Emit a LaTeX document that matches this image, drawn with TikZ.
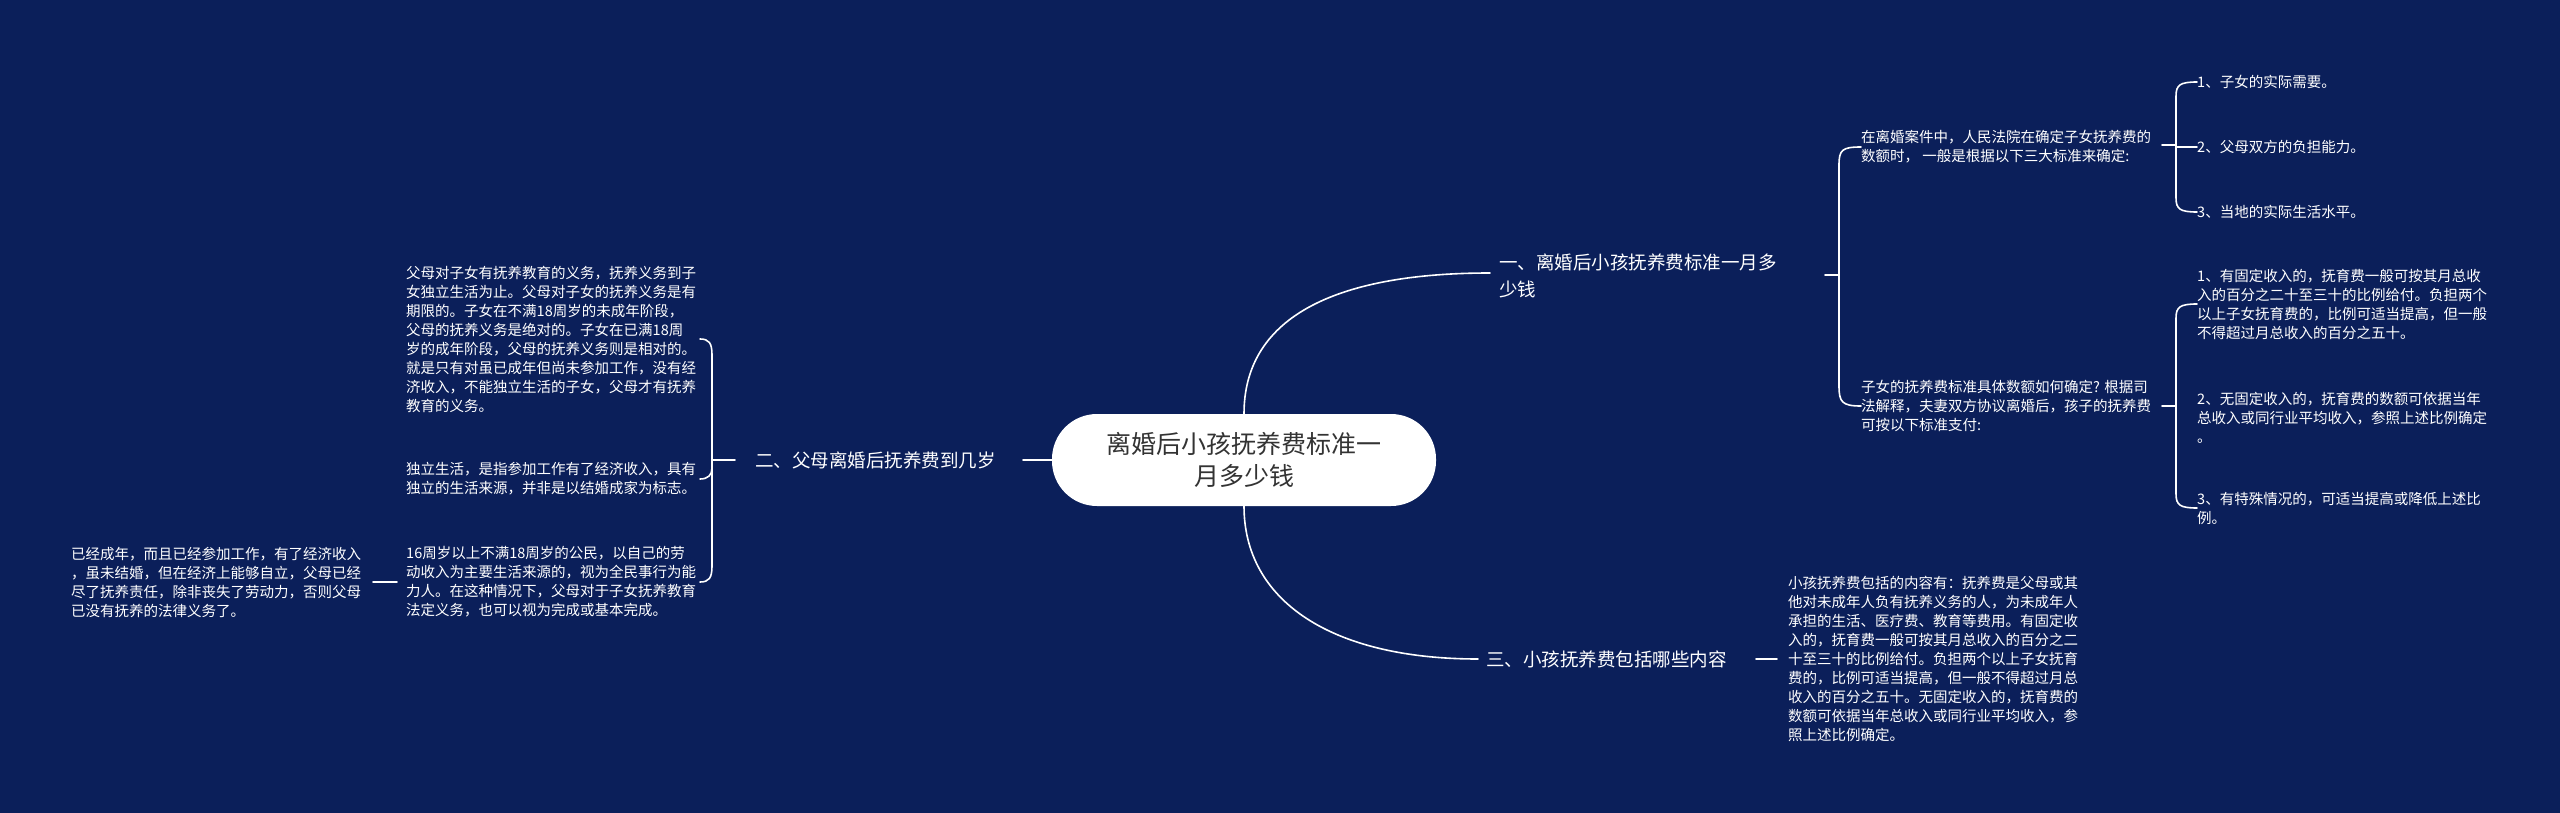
\documentclass[tikz,border=0pt]{standalone}
\usepackage{fontspec}
\setmainfont{Noto Sans CJK SC}
\definecolor{bg}{HTML}{0B1F5A}
\definecolor{roottext}{HTML}{333333}
\begin{document}
\begin{tikzpicture}[x=1pt,y=-1pt,
  line/.style={draw=white,line width=1.6pt,line cap=round},
  small/.style={text=white,align=left,anchor=west,inner sep=0pt,font=\fontsize{14.5}{19}\selectfont},
  branch/.style={text=white,align=left,anchor=west,inner sep=0pt,font=\fontsize{18.5}{27}\selectfont},
  rootbox/.style={fill=white,rounded corners=45pt,minimum width=384pt,minimum height=92pt,text=roottext,align=center,font=\fontsize{25}{32}\selectfont}]
\fill[bg] (0,0) rectangle (2560,813);
\useasboundingbox (0,0) rectangle (2560,813);
% root
\node[rootbox] (root) at (1244,460) {离婚后小孩抚养费标准一\\月多少钱};
% branch 1
\node[branch] (b1) at (1499,276) {一、离婚后小孩抚养费标准一月多\\少钱};
\coordinate (b1in) at (1490,273);
\draw[line] (root.north) .. controls (1244,320) and (1330,273) .. (b1in);
\coordinate (br1) at (1839,275);
\draw[line] (1825,275) -- (br1);
\node[small] (A) at (1861,147) {在离婚案件中，人民法院在确定子女抚养费的\\数额时， 一般是根据以下三大标准来确定:};
\node[small] (B) at (1861,406) {子女的抚养费标准具体数额如何确定? 根据司\\法解释，夫妻双方协议离婚后，孩子的抚养费\\可按以下标准支付:};
\draw[line] (A.west) .. controls (1842,147) and (1839,150) .. (1839,165) -- (1839,386) .. controls (1839,402) and (1842,406) .. (B.west);
% A children
\node[small] (A1) at (2197,82) {1、子女的实际需要。};
\node[small] (A2) at (2197,147) {2、父母双方的负担能力。};
\node[small] (A3) at (2197,212) {3、当地的实际生活水平。};
\draw[line] (2162,145) -- (2176,145);
\draw[line] (A1.west) .. controls (2180,82) and (2176,85) .. (2176,96) -- (2176,198) .. controls (2176,209) and (2180,212) .. (A3.west);
\draw[line] (2176,147) -- (A2.west);
% B children
\node[small] (B1) at (2197,304) {1、有固定收入的，抚育费一般可按其月总收\\入的百分之二十至三十的比例给付。负担两个\\以上子女抚育费的，比例可适当提高，但一般\\不得超过月总收入的百分之五十。};
\node[small] (B2) at (2197,418) {2、无固定收入的，抚育费的数额可依据当年\\总收入或同行业平均收入，参照上述比例确定\\。};
\node[small] (B3) at (2197,508) {3、有特殊情况的，可适当提高或降低上述比\\例。};
\draw[line] (2162,406) -- (2176,406);
\draw[line] (B1.west) .. controls (2180,304) and (2176,307) .. (2176,318) -- (2176,494) .. controls (2176,505) and (2180,508) .. (B3.west);
% branch 2
\node[branch] (b2) at (755,460) {二、父母离婚后抚养费到几岁};
\draw[line] (root.west) -- (1023,460);
\draw[line] (735,460) -- (712,460);
\node[small] (P1) at (406,339) {父母对子女有抚养教育的义务，抚养义务到子\\女独立生活为止。父母对子女的抚养义务是有\\期限的。子女在不满18周岁的未成年阶段，\\父母的抚养义务是绝对的。子女在已满18周\\岁的成年阶段，父母的抚养义务则是相对的。\\就是只有对虽已成年但尚未参加工作，没有经\\济收入，不能独立生活的子女，父母才有抚养\\教育的义务。};
\node[small] (P2) at (406,479) {独立生活，是指参加工作有了经济收入，具有\\独立的生活来源，并非是以结婚成家为标志。};
\node[small] (P3) at (406,582) {16周岁以上不满18周岁的公民，以自己的劳\\动收入为主要生活来源的，视为全民事行为能\\力人。在这种情况下，父母对于子女抚养教育\\法定义务，也可以视为完成或基本完成。};
\coordinate (p1e) at (700,339);
\coordinate (p3e) at (700,582);
\draw[line] (p1e) .. controls (709,339) and (712,343) .. (712,355) -- (712,566) .. controls (712,578) and (709,582) .. (p3e);
\draw[line] (712,468) .. controls (712,475) and (708,479) .. (700,479);
% Q
\node[small] (Q) at (71,582) {已经成年，而且已经参加工作，有了经济收入\\，虽未结婚，但在经济上能够自立，父母已经\\尽了抚养责任，除非丧失了劳动力，否则父母\\已没有抚养的法律义务了。};
\draw[line] (373,582) -- (397,582);
% branch 3
\node[branch] (b3) at (1486,659) {三、小孩抚养费包括哪些内容};
\draw[line] (root.south) .. controls (1244,600) and (1330,659) .. (1478,659);
\draw[line] (1756,659) -- (1777,659);
\node[small] (C) at (1788,659) {小孩抚养费包括的内容有：抚养费是父母或其\\他对未成年人负有抚养义务的人，为未成年人\\承担的生活、医疗费、教育等费用。有固定收\\入的，抚育费一般可按其月总收入的百分之二\\十至三十的比例给付。负担两个以上子女抚育\\费的，比例可适当提高，但一般不得超过月总\\收入的百分之五十。无固定收入的，抚育费的\\数额可依据当年总收入或同行业平均收入，参\\照上述比例确定。};
\end{tikzpicture}
\end{document}
